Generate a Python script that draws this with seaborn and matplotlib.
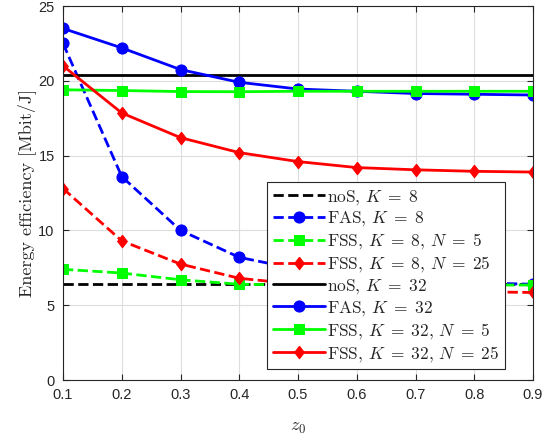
import numpy as np
import pandas as pd
import matplotlib
matplotlib.use("Agg")
import matplotlib.pyplot as plt
import seaborn as sns

# x axis
z0 = [0.1, 0.2, 0.3, 0.4, 0.5, 0.6, 0.7, 0.8, 0.9]

# K = 8
nos_k8 = [6.45] * 9
fas_k8 = [22.5, 13.6, 10.0, 8.2, 7.4, 6.9, 6.7, 6.5, 6.4]
fss_k8_n5 = [7.4, 7.15, 6.7, 6.4, 6.35, 6.35, 6.35, 6.35, 6.35]
fss_k8_n25 = [12.8, 9.3, 7.75, 6.8, 6.4, 6.2, 6.0, 5.9, 5.85]

# K = 32
nos_k32 = [20.4] * 9
fas_k32 = [23.5, 22.2, 20.75, 19.9, 19.45, 19.3, 19.15, 19.1, 19.05]
fss_k32_n5 = [19.4, 19.35, 19.28, 19.27, 19.3, 19.3, 19.3, 19.3, 19.3]
fss_k32_n25 = [21.0, 17.85, 16.2, 15.2, 14.6, 14.2, 14.05, 13.95, 13.9]

labels = [
    r"noS, $K\;=\;8$", r"FAS, $K\;=\;8$",
    r"FSS, $K\;=\;8$, $N\;=\;5$", r"FSS, $K\;=\;8$, $N\;=\;25$",
    r"noS, $K\;=\;32$", r"FAS, $K\;=\;32$",
    r"FSS, $K\;=\;32$, $N\;=\;5$", r"FSS, $K\;=\;32$, $N\;=\;25$",
]
series = [nos_k8, fas_k8, fss_k8_n5, fss_k8_n25, nos_k32, fas_k32, fss_k32_n5, fss_k32_n25]

# MATLAB-like diamond (a bit narrower than tall)
diamond = [(0, 1), (0.78, 0), (0, -1), (-0.78, 0), (0, 1)]

colors = ["black", "#0000ff", "#00ff00", "#ff0000"] * 2
markers = [None, "o", "s", diamond] * 2
msizes = [0, 8, 7, 9] * 2
styles = ["--"] * 4 + ["-"] * 4

sns.set_style("ticks")
plt.rcParams["mathtext.fontset"] = "cm"
plt.rcParams["font.family"] = ["Liberation Sans", "DejaVu Sans"]

fig, ax = plt.subplots(figsize=(5.49, 4.36), dpi=100)
fig.subplots_adjust(left=63 / 549, right=533 / 549, top=1 - 6 / 436, bottom=1 - 380 / 436)

for vals, lab, c, m, ms, ls in zip(series, labels, colors, markers, msizes, styles):
    sns.lineplot(x=z0, y=vals, ax=ax, color=c, marker=m, markersize=ms,
                 markeredgecolor=c, linestyle=ls, linewidth=2, label=lab)

ax.set_xlim(0.1, 0.9)
ax.set_ylim(0, 25)
ax.set_xticks(z0)
ax.set_xticklabels([f"{v:g}" for v in z0])
ax.set_yticks([0, 5, 10, 15, 20, 25])
ax.tick_params(direction="in", top=True, right=True, labelsize=10.5, colors="#262626", length=4, pad=6)
ax.grid(True, color="#dddddd", linewidth=0.8)
for s in ax.spines.values():
    s.set_color("#262626")
    s.set_linewidth(0.8)

ax.set_xlabel(r"$z_0$", fontsize=13, labelpad=12)
ax.set_ylabel("Energy efficiency [Mbit/J]", family="cmr10", fontsize=13, labelpad=2)

leg = ax.legend(loc="lower right", bbox_to_anchor=(0.94, 0.03), prop={"family": "cmr10", "size": 12.5},
                frameon=True, fancybox=False, edgecolor="#262626", framealpha=1,
                handlelength=3.0, handletextpad=0.15, borderpad=0.3, labelspacing=0.17, borderaxespad=0)
leg.get_frame().set_linewidth(0.8)

plt.savefig("out.png", dpi=100)
plt.close()
